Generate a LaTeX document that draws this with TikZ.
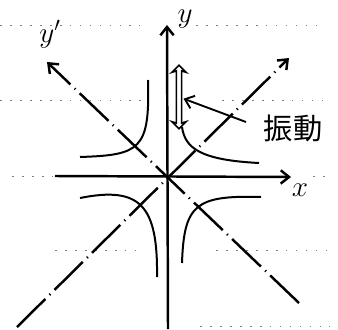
\documentclass[tikz,border=0pt]{standalone}
\usepackage{fontspec}
\newfontfamily\jpfont{Noto Sans CJK JP}
\usetikzlibrary{arrows.meta,shapes.arrows}

\begin{document}
\begin{tikzpicture}[
        x=0.03cm, y=-0.03cm,
        >={Straight Barb[length=2.5mm,width=4mm]},
        axis/.style={line width=2.1pt, ->},
        rotaxis/.style={line width=2.1pt, ->, dash pattern=on 34pt off 5pt on 1pt off 5pt},
        branch/.style={line width=1.7pt},
        ruled/.style={black!50, line width=0.8pt, dash pattern=on 1.5pt off 7pt},
        lbl/.style={font=\fontsize{25}{27}\selectfont, inner sep=0pt},
        vibarrow/.style={double arrow, draw, line width=1.4pt, fill=white, rotate=90, minimum height=1.9cm, inner sep=1.5pt, double arrow head extend=1.3mm, double arrow head indent=0.4mm},
        pointer/.style={line width=1.6pt, ->, shorten >=1pt}
    ]
        \useasboundingbox (0,0) rectangle (338,329);

        % ruled paper
        \draw[ruled] (0,25) -- (140,25);
        \draw[ruled] (196,25) -- (320,25);
        \draw[ruled] (0,100) -- (144,100);
        \draw[ruled] (222,100) -- (322,100);
        \draw[ruled] (12,176) -- (52,176);
        \draw[ruled] (313,176) -- (330,176);
        \draw[ruled] (55,250) -- (135,250);
        \draw[ruled] (216,250) -- (332,250);
        \draw[ruled] (200,326) -- (330,326);

        \coordinate (O) at (168,177);
        \coordinate (ybot) at (168,329);
        \coordinate (ytop) at (167,25);
        \coordinate (xleft) at (55,176);
        \coordinate (xright) at (291,177);
        \coordinate (yptail) at (299,303);
        \coordinate (yphead) at (47,62);
        \coordinate (xptail) at (17,327);
        \coordinate (xphead) at (289,58);

        % axes
        \draw[axis] (ybot) -- (ytop);
        \draw[axis] (xleft) -- (xright);
        \draw[rotaxis] (yptail) -- (yphead);
        \draw[rotaxis] (xptail) -- (xphead);

        \node[lbl] (ylbl) at (185,19) {$y$};
        \node[lbl] (xlbl) at (300,190) {$x$};
        \node[lbl] (yplbl) at (50,34) {$y'$};

        % hyperbola
        \draw[branch] (148,80) .. controls (150,150) and (140,155) .. (80,157);
        \draw[branch] (182,127) .. controls (185,148) and (200,160) .. (259,163);
        \draw[branch] (80,198) .. controls (140,186) and (158,205) .. (157,277);
        \draw[branch] (182,263) .. controls (184,205) and (195,195) .. (261,197);

        \node[vibarrow] (vib) at (179,97) {};
        \node[lbl, font=\fontsize{25}{27}\selectfont\jpfont] (vlbl) at (293,128) {振動};
        \coordinate (tail) at (246,122);
        \draw[pointer] (tail) -- (vib);
    \end{tikzpicture}
\end{document}
